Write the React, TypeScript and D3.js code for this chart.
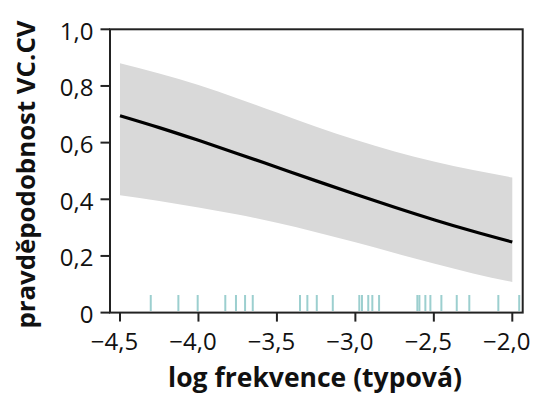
import React from "react";
import * as d3 from "d3";

const xGrid = [-4.5, -4.25, -4.0, -3.75, -3.5, -3.25, -3.0, -2.75, -2.5, -2.25, -2.0];
const fitValues = [0.695, 0.653, 0.608, 0.561, 0.513, 0.465, 0.418, 0.372, 0.328, 0.287, 0.249];
const upperValues = [0.880, 0.844, 0.803, 0.756, 0.706, 0.656, 0.610, 0.569, 0.533, 0.503, 0.477];
const lowerValues = [0.414, 0.394, 0.371, 0.346, 0.317, 0.284, 0.248, 0.210, 0.173, 0.138, 0.108];
const rugValues = [
  -4.304, -4.128, -4.005, -3.829, -3.761, -3.703, -3.654, -3.353, -3.306, -3.246,
  -3.144, -2.975, -2.958, -2.918, -2.892, -2.849, -2.605, -2.592, -2.554, -2.522,
  -2.452, -2.354, -2.274, -2.089, -1.956,
];
const xTicks = [-4.5, -4.0, -3.5, -3.0, -2.5, -2.0];
const yTicks = [0, 0.2, 0.4, 0.6, 0.8, 1.0];
const xTitle = "log frekvence (typová)";
const yTitle = "pravděpodobnost VC.CV";

const W = 533;
const H = 394;
const frame = { left: 110, right: 522.7, top: 29.3, bottom: 312.6 };

const fmtX = (v: number) => d3.format(".1f")(v).replace("-", "\u2212").replace(".", ",");
const fmtY = (v: number) => (v === 0 ? "0" : d3.format(".1f")(v).replace(".", ","));

export default function App() {
  const x = d3.scaleLinear().domain([-4.5, -2.0]).range([120, 512.3]);
  const y = d3.scaleLinear().domain([0, 1]).range([312.6, 29.3]);

  const pts = xGrid.map((v, i) => ({ x: v, fit: fitValues[i], lo: lowerValues[i], hi: upperValues[i] }));
  const area = d3
    .area<any>()
    .x((d) => x(d.x))
    .y0((d) => y(d.lo))
    .y1((d) => y(d.hi))
    .curve(d3.curveMonotoneX);
  const line = d3
    .line<any>()
    .x((d) => x(d.x))
    .y((d) => y(d.fit))
    .curve(d3.curveMonotoneX);

  const font = "'Open Sans', 'Noto Sans', sans-serif";

  return (
    <svg
      width={W}
      height={H}
      style={{ position: "absolute", left: 0, top: 0, background: "#fff" }}
      fontFamily={font}
    >
      <path d={area(pts) || ""} fill="#d9d9d9" stroke="none" />
      {rugValues.map((v, i) => (
        <line
          key={i}
          x1={x(v)}
          x2={x(v)}
          y1={295}
          y2={311}
          stroke="#9ccfcf"
          strokeWidth={2}
        />
      ))}
      <path d={line(pts) || ""} fill="none" stroke="#000" strokeWidth={3.2} />
      <rect
        x={frame.left}
        y={frame.top}
        width={frame.right - frame.left}
        height={frame.bottom - frame.top}
        fill="none"
        stroke="#222"
        strokeWidth={2}
      />
      {yTicks.map((t) => (
        <g key={"y" + t}>
          <line x1={100.5} x2={frame.left} y1={y(t)} y2={y(t)} stroke="#222" strokeWidth={2} />
          <text x={93.5} y={y(t) + 10.5} textAnchor="end" fontSize={24} fill="#111">
            {fmtY(t)}
          </text>
        </g>
      ))}
      {xTicks.map((t) => (
        <g key={"x" + t}>
          <line x1={x(t)} x2={x(t)} y1={frame.bottom} y2={frame.bottom + 9} stroke="#222" strokeWidth={2} />
          <text x={x(t) - 5.5} y={350} textAnchor="middle" fontSize={24} fill="#111">
            {fmtX(t)}
          </text>
        </g>
      ))}
      <text
        x={315}
        y={387}
        textAnchor="middle"
        fontSize={26.5}
        fontWeight="bold"
        fill="#111"
      >
        {xTitle}
      </text>
      <text
        transform={`translate(35,${(17 + 332) / 2}) rotate(-90)`}
        textAnchor="middle"
        fontSize={25.8}
        fontWeight="bold"
        fill="#111"
      >
        {yTitle}
      </text>
    </svg>
  );
}
